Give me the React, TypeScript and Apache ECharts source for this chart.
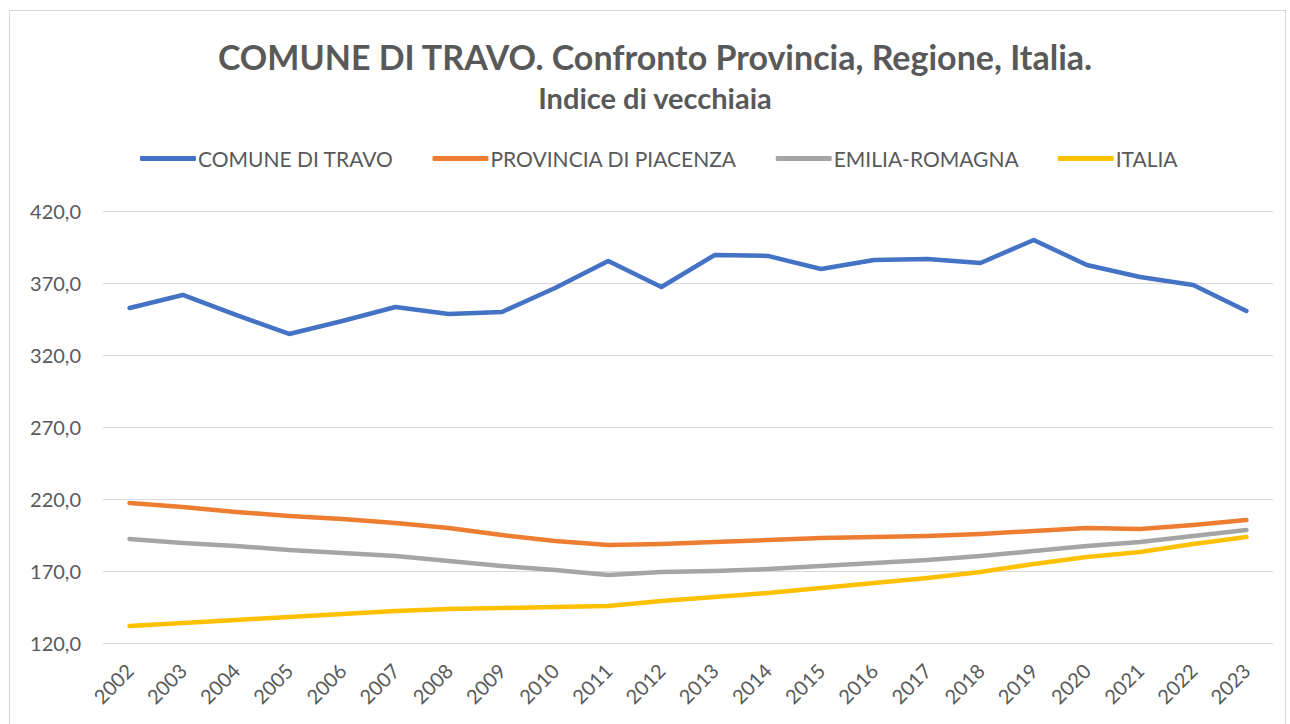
import React, { useEffect, useRef } from "react";
import * as echarts from "echarts";

const years = ["2002","2003","2004","2005","2006","2007","2008","2009","2010","2011","2012","2013","2014","2015","2016","2017","2018","2019","2020","2021","2022","2023"];
const comune = [352.6,361.7,347.8,334.6,343.6,353.3,348.5,349.9,366.5,385.3,367.2,389.4,388.8,379.7,386.0,386.7,383.9,399.9,382.5,374.2,368.6,350.6];
const provincia = [217.2,214.4,211.0,208.2,206.1,203.3,199.9,195.0,190.8,188.1,188.8,190.1,191.5,192.9,193.6,194.3,195.7,197.8,199.9,199.2,201.9,205.4];
const regione = [192.2,189.4,187.4,184.6,182.5,180.4,176.9,173.5,170.7,167.2,169.3,170.0,171.4,173.5,175.6,177.6,180.4,183.9,187.4,190.1,194.3,198.5];
const italia = [131.8,133.9,136.0,138.1,140.1,142.2,143.6,144.3,145.0,145.7,149.2,151.9,154.7,158.2,161.7,165.1,169.3,174.9,179.7,183.2,188.8,193.6];
const yTicks = [120, 170, 220, 270, 320, 370, 420];
const seriesNames = ["COMUNE DI TRAVO", "PROVINCIA DI PIACENZA", "EMILIA-ROMAGNA", "ITALIA"];
const colors = ["#4472C4", "#ED7D31", "#A5A5A5", "#FFC000"];

const FONT = "Lato, 'Noto Sans', sans-serif";

export default function App() {
  const ref = useRef<HTMLDivElement>(null);
  useEffect(() => {
    if (!ref.current) return;
    const chart = echarts.init(ref.current, null, { renderer: "svg" });
    const dataSets = [comune, provincia, regione, italia];
    chart.setOption({
      animation: false,
      backgroundColor: "#ffffff",
      textStyle: { fontFamily: FONT },
      title: {
        text: "COMUNE DI TRAVO. Confronto Provincia, Regione, Italia.",
        subtext: "Indice di vecchiaia",
        left: 650,
        textAlign: "center",
        top: 34,
        itemGap: 10,
        textStyle: { fontSize: 34, fontWeight: "bold", color: "#595959", fontFamily: FONT },
        subtextStyle: { fontSize: 29, fontWeight: "bold", color: "#595959", fontFamily: FONT },
      },
      legend: {
        top: 143,
        left: 135,
        itemWidth: 56,
        itemHeight: 5,
        itemGap: 39,
        icon: "roundRect",
        textStyle: { fontSize: 21, color: "#595959", fontFamily: FONT, padding: [0, 0, 0, -3] },
        data: seriesNames,
      },
      grid: { left: 103, right: 17, top: 211, bottom: 81, containLabel: false },
      xAxis: {
        type: "category",
        data: years,
        boundaryGap: true,
        axisLine: { show: true, lineStyle: { color: "#D9D9D9", width: 1 } },
        axisTick: { show: false },
        axisLabel: { rotate: 45, fontSize: 20, color: "#595959", margin: 24, interval: 0, fontFamily: FONT },
        splitLine: { show: false },
      },
      yAxis: {
        type: "value",
        min: 120,
        max: 420,
        axisLine: { show: false },
        axisTick: { show: false, customValues: yTicks },
        axisLabel: {
          customValues: yTicks,
          fontSize: 20,
          color: "#595959",
          margin: 22,
          fontFamily: FONT,
          formatter: (v: number) => v.toFixed(1).replace(".", ","),
        },
        splitLine: { show: true, lineStyle: { color: "#D9D9D9", width: 1 } },
      },
      series: dataSets.map((d, i) => ({
        name: seriesNames[i],
        type: "line",
        data: d,
        symbol: "none",
        lineStyle: { width: 4.5, color: colors[i], cap: "round", join: "round" },
        itemStyle: { color: colors[i] },
      })),
    });
    return () => chart.dispose();
  }, []);
  return (
    <div style={{ position: "fixed", left: 0, top: 0, width: 1290, height: 724, background: "#fff" }}>
      <div ref={ref} style={{ position: "absolute", left: 0, top: 0, width: 1290, height: 724 }} />
      <div style={{ position: "absolute", left: 9, top: 10, width: 1275, height: 720, border: "1px solid #D9D9D9", pointerEvents: "none" }} />
    </div>
  );
}
